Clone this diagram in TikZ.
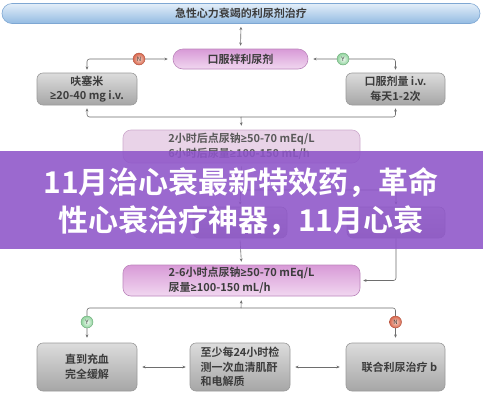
\documentclass[tikz,border=0pt]{standalone}
\usepackage{fontspec}
\setmainfont{Noto Sans CJK SC}
\newfontfamily\cjkb{Noto Sans CJK SC Bold}
\newfontfamily\osans{Open Sans}
\newcommand\mygeq{{\osans\bfseries ≥}}
\usetikzlibrary{arrows.meta,shadings}
\definecolor{conncol}{HTML}{6E6E6E}
\definecolor{boxtext}{HTML}{3C3C3C}
\definecolor{greytop}{HTML}{DCDCDC}
\definecolor{greybot}{HTML}{A6A6A6}
\definecolor{greyedge}{HTML}{9A9A9A}
\definecolor{pinktop}{HTML}{D89AD7}
\definecolor{pinkbot}{HTML}{F1D7F0}
\definecolor{pinkedge}{HTML}{BC86BC}
\definecolor{lpink}{HTML}{E9D3E8}
\definecolor{lpinkedge}{HTML}{CDAACD}
\definecolor{bluetop}{HTML}{E3EEF9}
\definecolor{bluebot}{HTML}{93BBE2}
\definecolor{blueedge}{HTML}{7EA7D3}
\definecolor{bannercol}{HTML}{8E55C9}
\definecolor{nin}{HTML}{F7D3C6}
\definecolor{nout}{HTML}{D8664C}
\definecolor{nedge}{HTML}{B0503C}
\definecolor{yin}{HTML}{F0FBF2}
\definecolor{yout}{HTML}{8ED29B}
\definecolor{yedge}{HTML}{68A876}
\tikzset{
  tipsm/.tip={Stealth[length=3.2pt,width=2.8pt]},
  conn/.style={draw=conncol, line width=0.6pt, -tipsm, rounded corners=2.5pt},
  dconn/.style={draw=conncol, line width=0.6pt, tipsm-tipsm, rounded corners=2.5pt},
  boxfont/.style={font=\cjkb\fontsize{11}{14.5}\selectfont, text=boxtext},
  greybox/.style={boxfont, rounded corners=6pt, draw=greyedge, line width=0.6pt,
    top color=greytop, bottom color=greybot, align=center, inner sep=0pt},
  pinkbox/.style={boxfont, draw=pinkedge, line width=0.6pt,
    top color=pinktop, bottom color=pinkbot, inner sep=0pt},
  yball/.style={circle, minimum size=12pt, inner sep=0pt, draw=yedge, line width=0.4pt,
    inner color=yin, outer color=yout, font=\fontsize{6}{6}\selectfont, text=boxtext},
  nball/.style={circle, minimum size=12pt, inner sep=0pt, draw=nedge, line width=0.4pt,
    inner color=nin, outer color=nout, font=\fontsize{6}{6}\selectfont, text=boxtext},
}
\begin{document}
\begin{tikzpicture}[x=1pt,y=-1pt]
\useasboundingbox (0,0) rectangle (483,400);
\fill[white] (0,0) rectangle (483,400);

% title
\node[boxfont, rounded corners=10pt, draw=blueedge, line width=0.6pt, top color=bluetop,
  bottom color=bluebot, minimum width=478pt, minimum height=20pt, inner sep=0pt]
  (title) at (241,13.5) {急性心力衰竭的利尿剂治疗};

% oral loop diuretic
\node[pinkbox, rounded corners=10pt, minimum width=135pt, minimum height=20pt]
  (oral) at (240.5,59) {口服袢利尿剂};

\node[greybox, minimum width=100pt, minimum height=32pt] (furo) at (87,89)
  {呋塞米\\\mygeq20-40 mg i.v.};
\node[greybox, minimum width=99pt, minimum height=32pt] (dose) at (395.5,89)
  {口服剂量 i.v.\\每天1-2次};

\node[boxfont, rounded corners=8pt, draw=lpinkedge, line width=0.6pt, fill=lpink,
  minimum width=237pt, minimum height=33pt, inner sep=0pt, align=left, text=boxtext!85]
  (check2) at (241.5,146.5) {2小时后点尿钠\mygeq50-70 mEq/L\\6小时后尿量\mygeq100-150 mL/h};

% hidden boxes (under banner)
\node[greybox, minimum width=94pt, minimum height=31pt] (hidL) at (240,222.5) {};
\node[greybox, minimum width=98pt, minimum height=31pt] (hidR) at (396,222.5) {};

\node[pinkbox, rounded corners=8pt, minimum width=237pt, minimum height=31pt, align=left]
  (check6) at (241.5,280.5) {2-6小时点尿钠\mygeq50-70 mEq/L\\尿量\mygeq100-150 mL/h};

\node[greybox, minimum width=100pt, minimum height=48pt] (relief) at (87,367)
  {直到充血\\完全缓解};
\node[greybox, minimum width=100pt, minimum height=48pt, align=left] (monitor) at (240,367)
  {至少每24小时检\\测一次血清肌酐\\和电解质};
\node[greybox, minimum width=99pt, minimum height=48pt] (combo) at (395.5,367)
  {\hspace*{8pt}联合利尿治疗 b};

% connectors top
\draw[dconn, shorten <=3pt, shorten >=3pt] (title.south) -- (oral.north);
\draw[dconn, shorten <=5pt, shorten >=3pt] (oral.west) -| (furo.north);
\draw[dconn, shorten <=5pt, shorten >=3pt] (oral.east) -| (dose.north);
\coordinate (br) at (241,117);
\draw[conn, shorten >=4pt] (br) -- (check2.north);
\draw[conn, shorten >=3pt] (br) -| (furo.south);
\draw[conn, shorten >=3pt] (br) -| (dose.south);

% hidden connectors
\draw[conn, shorten <=3pt, shorten >=2pt] (check2.south) -- (hidL.north);
\coordinate (hb) at (241,190);
\draw[conn, shorten >=2pt] (hb) -| (hidR.north);

% lower connectors
\draw[conn, shorten <=2pt, shorten >=3pt] (hidL.south) -- (check6.north);
\draw[conn, shorten >=3pt] (hidR.south) |- (check6.east);
\coordinate (fk) at (241,308);
\draw[conn, shorten >=4pt] (fk) -- (check6.south);
\draw[conn, shorten >=5pt] (fk) -| (relief.north);
\draw[conn, shorten >=5pt] (fk) -| (combo.north);
\draw[dconn, shorten <=5pt, shorten >=4pt] (relief.east) -- (monitor.west);
\draw[dconn, shorten <=5pt, shorten >=6pt] (monitor.east) -- (combo.west);

% Y/N balls
\node[nball] (n1) at (139,59) {N};
\node[yball] (y1) at (343,59) {Y};
\node[yball] (y2) at (87,322) {Y};
\node[nball] (n2) at (395.5,322) {N};

% banner overlay
\fill[bannercol, opacity=0.88] (0,150.5) rectangle (483,248.5);
\node[font=\cjkb\fontsize{30}{38}\selectfont, text=white, align=center, inner sep=0pt]
  (banner) at (241,202) {11月治心衰最新特效药，革命\\性心衰治疗神器，11月心衰};
\end{tikzpicture}
\end{document}
